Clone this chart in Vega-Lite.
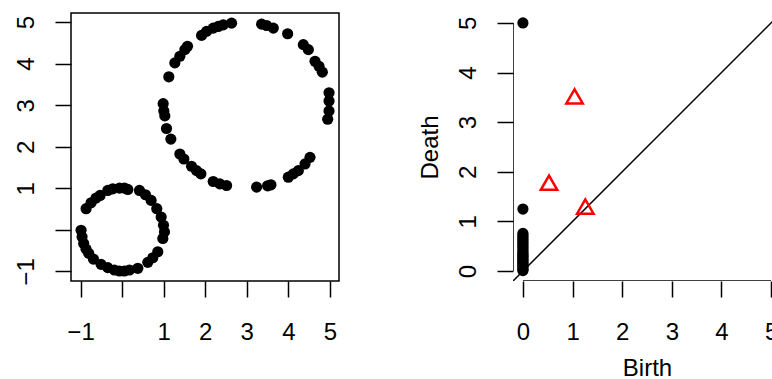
{
  "$schema": "https://vega.github.io/schema/vega-lite/v6.json",
  "padding": {"left": 13, "top": 12, "right": 0, "bottom": 0},
  "bounds": "flush",
  "spacing": 174,
  "config": {
    "font": "Liberation Sans",
    "view": {"stroke": "black", "strokeWidth": 1.5},
    "axis": {
      "labelFont": "Liberation Sans", "labelFontSize": 24, "labelColor": "black",
      "titleFont": "Liberation Sans", "titleFontSize": 24, "titleColor": "black", "titleFontWeight": "normal",
      "tickColor": "black", "tickWidth": 1.5, "tickSize": 16,
      "grid": false, "domain": false, "labelFlush": false, "labelOverlap": false
    },
    "axisX": {"labelPadding": 23.5, "titlePadding": 12},
    "axisY": {"labelAngle": -90, "labelAlign": "center", "labelBaseline": "bottom", "labelPadding": 17, "titlePadding": 14}
  },
  "datasets": {
    "cloud": [
      {"x": 0.418, "y": 0.949}, {"x": 0.562, "y": 0.845}, {"x": 0.699, "y": 0.710}, {"x": 0.835, "y": 0.510},
      {"x": 0.940, "y": 0.311}, {"x": 0.996, "y": 0.112}, {"x": 1.020, "y": -0.048}, {"x": 0.980, "y": -0.207},
      {"x": -0.345, "y": 0.949}, {"x": -0.225, "y": 0.989}, {"x": -0.064, "y": 1.005}, {"x": 0.056, "y": 1.005},
      {"x": 0.137, "y": 0.973}, {"x": -0.867, "y": 0.510}, {"x": -0.747, "y": 0.654}, {"x": -0.627, "y": 0.766},
      {"x": -0.530, "y": 0.829}, {"x": -0.988, "y": -0.008}, {"x": -0.964, "y": -0.167}, {"x": -0.924, "y": -0.327},
      {"x": -0.867, "y": -0.463}, {"x": -0.803, "y": -0.566}, {"x": -0.691, "y": -0.702}, {"x": -0.506, "y": -0.829},
      {"x": -0.345, "y": -0.909}, {"x": -0.185, "y": -0.965}, {"x": -0.064, "y": -0.989}, {"x": 0.056, "y": -0.989},
      {"x": 0.177, "y": -0.965}, {"x": 0.378, "y": -0.925}, {"x": 0.618, "y": -0.781}, {"x": 0.739, "y": -0.670},
      {"x": 0.859, "y": -0.526},
      {"x": 0.988, "y": 3.038}, {"x": 1.004, "y": 2.863}, {"x": 1.028, "y": 2.743}, {"x": 1.068, "y": 2.440},
      {"x": 1.173, "y": 2.185}, {"x": 1.390, "y": 1.826}, {"x": 1.486, "y": 1.707}, {"x": 1.671, "y": 1.531},
      {"x": 1.791, "y": 1.427}, {"x": 1.896, "y": 1.348}, {"x": 2.193, "y": 1.164}, {"x": 2.353, "y": 1.108},
      {"x": 2.514, "y": 1.069}, {"x": 3.237, "y": 1.029}, {"x": 3.502, "y": 1.061}, {"x": 3.582, "y": 1.085},
      {"x": 4.000, "y": 1.268}, {"x": 4.120, "y": 1.348}, {"x": 4.241, "y": 1.427}, {"x": 4.402, "y": 1.587},
      {"x": 4.522, "y": 1.746}, {"x": 4.948, "y": 2.663}, {"x": 4.980, "y": 2.863}, {"x": 4.980, "y": 3.102},
      {"x": 4.980, "y": 3.301}, {"x": 4.819, "y": 3.796}, {"x": 4.739, "y": 3.939}, {"x": 4.643, "y": 4.059},
      {"x": 4.482, "y": 4.338}, {"x": 4.361, "y": 4.458}, {"x": 3.984, "y": 4.721}, {"x": 3.639, "y": 4.856},
      {"x": 3.478, "y": 4.920}, {"x": 3.357, "y": 4.952}, {"x": 2.635, "y": 4.976}, {"x": 2.434, "y": 4.936},
      {"x": 2.313, "y": 4.896}, {"x": 2.193, "y": 4.856}, {"x": 2.032, "y": 4.777}, {"x": 1.912, "y": 4.681},
      {"x": 1.574, "y": 4.418}, {"x": 1.510, "y": 4.338}, {"x": 1.390, "y": 4.179}, {"x": 1.269, "y": 4.019},
      {"x": 1.124, "y": 3.684}
    ],
    "diagram": [
      {"dim": 0, "birth": 0, "death": 5.0}, {"dim": 0, "birth": 0, "death": 1.25},
      {"dim": 0, "birth": 0, "death": 0.76}, {"dim": 0, "birth": 0, "death": 0.72}, {"dim": 0, "birth": 0, "death": 0.68},
      {"dim": 0, "birth": 0, "death": 0.64}, {"dim": 0, "birth": 0, "death": 0.6}, {"dim": 0, "birth": 0, "death": 0.56},
      {"dim": 0, "birth": 0, "death": 0.52}, {"dim": 0, "birth": 0, "death": 0.48}, {"dim": 0, "birth": 0, "death": 0.44},
      {"dim": 0, "birth": 0, "death": 0.4}, {"dim": 0, "birth": 0, "death": 0.36}, {"dim": 0, "birth": 0, "death": 0.33},
      {"dim": 0, "birth": 0, "death": 0.3}, {"dim": 0, "birth": 0, "death": 0.27}, {"dim": 0, "birth": 0, "death": 0.24},
      {"dim": 0, "birth": 0, "death": 0.21}, {"dim": 0, "birth": 0, "death": 0.18}, {"dim": 0, "birth": 0, "death": 0.15},
      {"dim": 0, "birth": 0, "death": 0.12}, {"dim": 0, "birth": 0, "death": 0.09}, {"dim": 0, "birth": 0, "death": 0.06},
      {"dim": 0, "birth": 0, "death": 0.03}, {"dim": 0, "birth": 0, "death": 0.01},
      {"dim": 1, "birth": 1.04, "death": 3.52}, {"dim": 1, "birth": 0.526, "death": 1.78}, {"dim": 1, "birth": 1.257, "death": 1.3}
    ],
    "lines": [
      {"x": -0.2, "y": -0.2, "x2": 5.2, "y2": 5.2},
      {"x": -0.2, "y": 0, "x2": -0.2, "y2": 5},
      {"x": 0, "y": -0.2, "x2": 5, "y2": -0.2}
    ]
  },
  "hconcat": [
    {
      "width": 268, "height": 268,
      "data": {"name": "cloud"},
      "mark": {"type": "circle", "size": 125, "color": "black", "opacity": 1},
      "encoding": {
        "x": {"field": "x", "type": "quantitative",
              "scale": {"domain": [-1.23, 5.22], "nice": false, "zero": false},
              "axis": {"values": [-1, 0, 1, 2, 3, 4, 5], "labelExpr": "datum.value == 0 ? '' : datum.label", "title": null}},
        "y": {"field": "y", "type": "quantitative",
              "scale": {"domain": [-1.23, 5.22], "nice": false, "zero": false},
              "axis": {"values": [-1, 0, 1, 2, 3, 4, 5], "labelExpr": "datum.value == 0 ? '' : datum.label", "title": null}}
      }
    },
    {
      "width": 268, "height": 268,
      "view": {"stroke": null},
      "layer": [
        {
          "data": {"name": "lines"},
          "mark": {"type": "rule", "color": "black", "strokeWidth": 1.5, "clip": true},
          "encoding": {
            "x": {"field": "x", "type": "quantitative",
                  "scale": {"domain": [-0.2, 5.2], "nice": false, "zero": false},
                  "axis": {"values": [0, 1, 2, 3, 4, 5], "title": "Birth"}},
            "y": {"field": "y", "type": "quantitative",
                  "scale": {"domain": [-0.2, 5.2], "nice": false, "zero": false},
                  "axis": {"values": [0, 1, 2, 3, 4, 5], "title": "Death"}},
            "x2": {"field": "x2"},
            "y2": {"field": "y2"}
          }
        },
        {
          "data": {"name": "diagram"},
          "transform": [{"filter": "datum.dim == 0"}],
          "mark": {"type": "circle", "size": 125, "color": "black", "opacity": 1},
          "encoding": {
            "x": {"field": "birth", "type": "quantitative"},
            "y": {"field": "death", "type": "quantitative"}
          }
        },
        {
          "data": {"name": "diagram"},
          "transform": [{"filter": "datum.dim == 1"}],
          "mark": {"type": "point", "shape": "triangle-up", "size": 270, "filled": false, "stroke": "#ff0000", "strokeWidth": 2.5, "opacity": 1},
          "encoding": {
            "x": {"field": "birth", "type": "quantitative"},
            "y": {"field": "death", "type": "quantitative"}
          }
        }
      ]
    }
  ]
}
